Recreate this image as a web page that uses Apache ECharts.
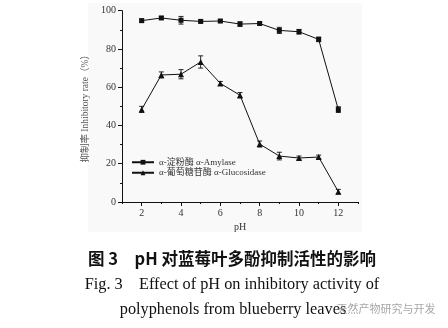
<!DOCTYPE html>
<html>
<head>
<meta charset="utf-8">
<script src="https://cdn.jsdelivr.net/npm/echarts@6/dist/echarts.min.js"></script>
<style>
html,body{margin:0;padding:0;background:#fff;}
#chart{width:448px;height:328px;}
</style>
</head>
<body>
<div id="chart"></div>
<script>
// Data
const phValues = [2, 3, 4, 5, 6, 7, 8, 9, 10, 11, 12];
const amylase = [94.8, 96.2, 95.0, 94.4, 94.6, 93.0, 93.3, 89.7, 89.0, 85.0, 48.3];
const amylaseErr = [0.8, 0.8, 2.0, 0.8, 0.8, 1.2, 0.8, 1.6, 1.2, 1.2, 1.5];
const glucosidase = [48.4, 66.4, 66.8, 73.2, 62.0, 55.8, 30.3, 24.0, 23.0, 23.5, 5.4];
const glucosidaseErr = [1.6, 1.6, 2.4, 3.2, 1.0, 1.4, 1.6, 2.0, 1.0, 1.0, 1.2];
const yTicks = [0, 20, 40, 60, 80, 100];
const xTickLabels = [2, 4, 6, 8, 10, 12];
const seriesNames = ['α-淀粉酶 α-Amylase', 'α-葡萄糖苷酶 α-Glucosidase'];
const yAxisName = '抑制率 Inhibitory rate（%）';
const xAxisName = 'pH';
const captionCn = '图 3　pH 对蓝莓叶多酚抑制活性的影响';
const captionEn1 = 'Fig. 3　Effect of pH on inhibitory activity of';
const captionEn2 = 'polyphenols from blueberry leaves';
const watermark = '天然产物研究与开发';

const serif = '"Liberation Serif", "DejaVu Serif", "Noto Sans CJK SC", serif';

function pairs(vals) { return phValues.map((x, i) => [x, vals[i]]); }
function errData(vals, errs) { return phValues.map((x, i) => [x, vals[i] - errs[i], vals[i] + errs[i]]); }

function errorBarRender(params, api) {
  const x = api.value(0);
  const lo = api.coord([x, api.value(1)]);
  const hi = api.coord([x, api.value(2)]);
  const w = 2.5;
  const st = { stroke: '#111', lineWidth: 0.9 };
  return {
    type: 'group',
    children: [
      { type: 'line', shape: { x1: lo[0], y1: lo[1], x2: hi[0], y2: hi[1] }, style: st },
      { type: 'line', shape: { x1: lo[0] - w, y1: lo[1], x2: lo[0] + w, y2: lo[1] }, style: st },
      { type: 'line', shape: { x1: hi[0] - w, y1: hi[1], x2: hi[0] + w, y2: hi[1] }, style: st }
    ]
  };
}

const chart = echarts.init(document.getElementById('chart'), null, { renderer: 'canvas' });
const axisLabelStyle = { color: '#333', fontFamily: serif, fontSize: 10 };

chart.setOption({
  animation: false,
  backgroundColor: '#ffffff',
  grid: { left: 122, right: 90, top: 10.7, bottom: 126 },
  xAxis: [
    {
      type: 'value', min: 1, max: 13, interval: 2,
      position: 'bottom',
      axisLine: { lineStyle: { color: '#111', width: 1 } },
      axisTick: { show: true, inside: false, length: 2, lineStyle: { color: '#111' } },
      minorTick: { show: true, splitNumber: 2, length: 4, lineStyle: { color: '#111' } },
      axisLabel: { show: false },
      splitLine: { show: false },
      name: xAxisName, nameLocation: 'middle', nameGap: 20,
      nameTextStyle: { color: '#333', fontFamily: serif, fontSize: 10 }
    },
    {
      type: 'value', min: 1, max: 13, interval: 1,
      position: 'bottom',
      axisLine: { show: false },
      axisTick: { show: false },
      axisLabel: Object.assign({
        margin: 6,
        formatter: v => (xTickLabels.indexOf(v) >= 0 ? String(v) : '')
      }, axisLabelStyle),
      splitLine: { show: false }
    }
  ],
  yAxis: {
    type: 'value', min: yTicks[0], max: yTicks[yTicks.length - 1], interval: 20,
    axisLine: { show: true, lineStyle: { color: '#111', width: 1 } },
    axisTick: { show: true, inside: false, length: 4, lineStyle: { color: '#111' } },
    minorTick: { show: true, splitNumber: 2, length: 2, lineStyle: { color: '#111' } },
    axisLabel: Object.assign({ margin: 6 }, axisLabelStyle),
    splitLine: { show: false },
    name: yAxisName, nameLocation: 'middle', nameRotate: 90, nameGap: 23,
    nameTextStyle: { color: '#555', fontFamily: serif, fontSize: 9.5 }
  },
  legend: {
    orient: 'vertical', left: 126, top: 152,
    itemWidth: 22, itemHeight: 6, itemGap: 0,
    textStyle: { color: '#333', fontFamily: serif, fontSize: 9, lineHeight: 10.5 },
    data: [seriesNames[0], seriesNames[1]]
  },
  graphic: [
    { type: 'rect', z: -10, silent: true, shape: { x: 88, y: 3, width: 274, height: 229 }, style: { fill: '#f9f9f9' } },
    { type: 'text', x: 232, y: 259, style: { text: captionCn, fontSize: 16.5, fontWeight: 'bold', fontFamily: '"Noto Sans CJK SC", "Liberation Serif", sans-serif', fill: '#111', textAlign: 'center', textVerticalAlign: 'middle' } },
    { type: 'text', x: 232, y: 285, style: { text: captionEn1, fontSize: 16.3, fontFamily: serif, fill: '#111', textAlign: 'center', textVerticalAlign: 'middle' } },
    { type: 'text', x: 233, y: 310, style: { text: captionEn2, fontSize: 16.3, fontFamily: serif, fill: '#111', textAlign: 'center', textVerticalAlign: 'middle' } },
    { type: 'text', x: 386, y: 309, z: 20, style: { text: watermark, fontSize: 11, fontFamily: '"Noto Sans CJK SC", sans-serif', fill: 'rgba(150,150,150,0.85)', textAlign: 'center', textVerticalAlign: 'middle' } }
  ],
  series: [
    {
      name: seriesNames[0], type: 'line', xAxisIndex: 0, data: pairs(amylase),
      symbol: 'rect', symbolSize: 5,
      lineStyle: { color: '#111', width: 1 },
      itemStyle: { color: '#111' }, z: 3
    },
    {
      name: seriesNames[1], type: 'line', xAxisIndex: 0, data: pairs(glucosidase),
      symbol: 'triangle', symbolSize: 6,
      lineStyle: { color: '#111', width: 1 },
      itemStyle: { color: '#111' }, z: 3
    },
    {
      type: 'custom', xAxisIndex: 0, renderItem: errorBarRender,
      data: errData(amylase, amylaseErr), z: 2, silent: true
    },
    {
      type: 'custom', xAxisIndex: 0, renderItem: errorBarRender,
      data: errData(glucosidase, glucosidaseErr), z: 2, silent: true
    }
  ]
});
</script>
</body>
</html>
